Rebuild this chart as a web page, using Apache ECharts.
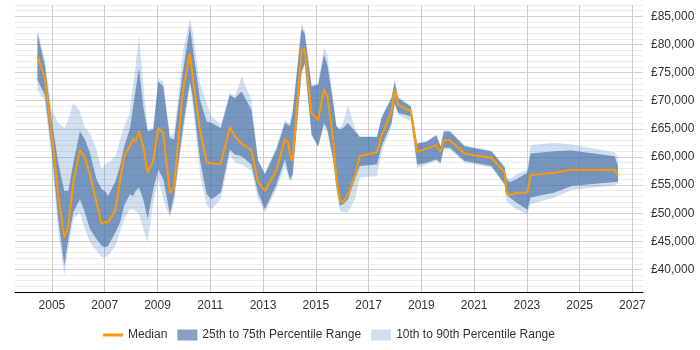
<!DOCTYPE html>
<html>
<head>
<meta charset="utf-8">
<script src="https://cdn.jsdelivr.net/npm/echarts@6/dist/echarts.min.js"></script>
<style>
  html, body { margin: 0; padding: 0; background: #fff; }
  #chart { width: 700px; height: 350px; }
</style>
</head>
<body>
<div id="chart"></div>
<script>
// time points (decimal years)
const years = [
  2004.45, 2004.73, 2004.99, 2005.24, 2005.47, 2005.62, 2005.81, 2006.06, 2006.25, 2006.44,
  2006.69, 2006.88, 2007.01, 2007.13, 2007.41, 2007.58, 2007.74, 2007.95, 2008.08, 2008.17,
  2008.30, 2008.46, 2008.63, 2008.84, 2009.03, 2009.22, 2009.47, 2009.63, 2009.97, 2010.23,
  2010.35, 2010.61, 2010.86, 2011.05, 2011.40, 2011.74, 2011.93, 2012.19, 2012.56, 2012.81,
  2013.07, 2013.51, 2013.83, 2013.95, 2014.02, 2014.12, 2014.46, 2014.58, 2014.84, 2015.09,
  2015.31, 2015.44, 2015.66, 2015.78, 2015.91, 2016.03, 2016.22, 2016.48, 2016.67, 2017.32,
  2017.49, 2017.87, 2017.99, 2018.12, 2018.60, 2018.84, 2019.19, 2019.57, 2019.73, 2019.85,
  2020.08, 2020.64, 2021.02, 2021.66, 2022.16, 2022.22, 2022.35, 2022.60, 2023.02, 2023.14,
  2024.05, 2024.69, 2026.33, 2026.45
];

const p90 = [
  82820, 77230, 68390, 66030, 65150, 66620, 69570, 68100, 65150, 64270,
  61320, 57790, 58670, 58970, 60140, 63090, 65450, 67800, 73100, 76050,
  81640, 73100, 64860, 65150, 73990, 73400, 63680, 64270, 78990, 84590,
  81940, 73100, 69570, 67210, 65740, 71340, 70750, 74280, 70160, 59560,
  57200, 61910, 66620, 66030, 66030, 68390, 83700, 82530, 72810, 73100,
  79580, 78110, 70160, 65600, 65150, 66030, 69270, 65150, 63680, 63680,
  67210, 70750, 73690, 70750, 69100, 62500, 62790, 63970, 61910, 64680,
  64680, 62030, 61730, 61150, 58380, 56610, 56020, 56900, 57790, 62090,
  62500, 62210, 60850, 60140
];

const p75 = [
  81940, 76340, 66620, 58970, 53960, 53960, 58970, 64560, 63090, 60730,
  56020, 54250, 53960, 53080, 55730, 58380, 61910, 64860, 68980, 71920,
  75750, 68980, 64560, 64860, 73400, 72510, 63380, 63090, 75460, 83120,
  78990, 70160, 66330, 66030, 65150, 71040, 70450, 71630, 68390, 59400,
  56900, 61320, 66030, 65740, 65450, 67800, 82820, 81940, 72510, 72810,
  78110, 76340, 69570, 65450, 64860, 65150, 66030, 64560, 63560, 63560,
  66920, 70450, 73400, 70450, 68980, 62380, 62680, 63800, 61790, 64500,
  64500, 61910, 61560, 60970, 58080, 56020, 55550, 56020, 57200, 60620,
  61030, 61150, 60140, 58380
];

const median = [
  77990, 73990, 64270, 53080, 45600, 47780, 55430, 61200, 59850, 56900,
  51900, 48070, 48480, 48360, 50600, 55730, 60140, 61910, 63210, 62790,
  64560, 61910, 57200, 59260, 65150, 64270, 53550, 54670, 71920, 78290,
  73690, 64860, 59080, 58850, 58790, 65270, 63680, 62380, 61200, 55550,
  53960, 57670, 63210, 62620, 60320, 59260, 78990, 79110, 67800, 66510,
  72040, 70750, 63090, 56020, 52190, 52020, 53370, 56610, 60140, 60850,
  63680, 68100, 71920, 69270, 68100, 60910, 61440, 62090, 60910, 62970,
  62970, 60620, 60260, 59850, 57200, 53780, 53190, 53610, 53670, 56790,
  57200, 57730, 57730, 56730
];

const p25 = [
  73690, 71040, 61320, 48950, 40710, 45420, 50130, 52490, 50130, 47190,
  45420, 44240, 43950, 44240, 46600, 48360, 51310, 53370, 53080, 53960,
  54550, 52490, 48950, 54250, 57790, 56020, 49840, 53080, 65450, 73400,
  70160, 59560, 53370, 52490, 53670, 61320, 60440, 60140, 58670, 53670,
  50720, 55140, 59560, 57200, 56020, 56900, 75160, 76640, 63970, 61910,
  66030, 64860, 59560, 54840, 51310, 51600, 52490, 56020, 58380, 58670,
  61910, 66030, 69570, 67800, 67210, 58670, 58970, 59560, 58970, 61620,
  61620, 59260, 58970, 58380, 55140, 53370, 52780, 51900, 50600, 52780,
  53670, 54840, 55550, 55550
];

const p10 = [
  72040, 69860, 59560, 46600, 38940, 43650, 48950, 50130, 47190, 44830,
  43360, 42180, 42180, 42470, 44240, 46600, 48950, 50720, 50720, 50430,
  49840, 47190, 44830, 51900, 56020, 52490, 49250, 51900, 64270, 72510,
  68390, 57200, 51310, 50720, 52490, 60440, 58970, 58670, 57490, 52490,
  50130, 54250, 58380, 56610, 55730, 56020, 74570, 76340, 63680, 61620,
  65450, 64270, 58970, 54250, 50430, 50130, 50130, 52490, 56320, 56610,
  60730, 65450, 69270, 67510, 66330, 58080, 58670, 59260, 58670, 61320,
  61320, 58970, 58670, 58080, 54840, 52190, 51600, 50720, 49840, 51600,
  52780, 54130, 54960, 55310
];

const labelYears = [2005, 2007, 2009, 2011, 2013, 2015, 2017, 2019, 2021, 2023, 2025, 2027];

const LIGHT = 'rgba(70,130,200,0.25)';
const DARK = 'rgba(70,110,165,0.65)';
const ORANGE = '#ff9900';

// x ticks every 0.2 yr from 2003.6, so 2005 is tick 7 and repeats every 10
const xGridColors = Array.from({ length: 10 }, (_, i) => i === 7 ? '#cccccc' : 'rgba(0,0,0,0)');

// one filled polygon between a lower and an upper percentile line
const bandSeries = (name, lo, hi, color) => ({
  type: 'custom',
  name: name,
  coordinateSystem: 'cartesian2d',
  itemStyle: { color: color },
  data: years.map((y, i) => [y, lo[i], hi[i]]),
  encode: { x: 0, y: [1, 2] },
  silent: true,
  renderItem: (params, api) => {
    if (params.dataIndex !== 0) return null;
    const top = years.map((y, i) => api.coord([y, hi[i]]));
    const bottom = years.map((y, i) => api.coord([y, lo[i]])).reverse();
    return {
      type: 'polygon',
      shape: { points: top.concat(bottom) },
      style: { fill: color }
    };
  }
});

const chart = echarts.init(document.getElementById('chart'));

chart.setOption({
  animation: false,
  textStyle: { fontFamily: '"Liberation Sans", Arial, sans-serif' },
  grid: { left: 15, right: 57, top: 5, bottom: 58 },
  legend: {
    left: 98,
    top: 324,
    itemWidth: 20,
    itemHeight: 11,
    itemGap: 10,
    textStyle: { fontSize: 12, color: '#333' },
    data: [
      { name: 'Median', icon: 'path://M0,0H20V3H0Z' },
      { name: '25th to 75th Percentile Range', icon: 'rect' },
      { name: '10th to 90th Percentile Range', icon: 'rect' }
    ]
  },
  xAxis: {
    type: 'value',
    min: 2003.6,
    max: 2027.4,
    interval: 0.2,
    axisLine: { lineStyle: { color: '#000', width: 1 } },
    axisTick: { show: false },
    axisLabel: {
      fontSize: 12,
      color: '#333',
      margin: 8,
      formatter: v => {
        const y = Math.round(v * 10) / 10;
        return labelYears.includes(y) ? String(y) : '';
      }
    },
    splitLine: { show: true, lineStyle: { color: xGridColors, width: 1 } }
  },
  yAxis: {
    type: 'value',
    position: 'right',
    min: 36000,
    max: 87000,
    interval: 1000,
    axisLine: { show: false },
    axisTick: { show: false },
    axisLabel: {
      fontSize: 12,
      color: '#333',
      margin: 8,
      formatter: v => v % 5000 === 0 ? '£' + String(v).replace(/\B(?=(\d{3})+(?!\d))/g, ',') : ''
    },
    splitLine: {
      show: true,
      lineStyle: { color: ['#ececec', '#ececec', '#ececec', '#ececec', '#d2d2d2'], width: 1 }
    }
  },
  series: [
    bandSeries('10th to 90th Percentile Range', p10, p90, LIGHT),
    bandSeries('25th to 75th Percentile Range', p25, p75, DARK),
    {
      name: 'Median',
      type: 'line',
      symbol: 'none',
      itemStyle: { color: ORANGE },
      lineStyle: { color: ORANGE, width: 2 },
      data: years.map((y, i) => [y, median[i]])
    }
  ]
});
</script>
</body>
</html>
